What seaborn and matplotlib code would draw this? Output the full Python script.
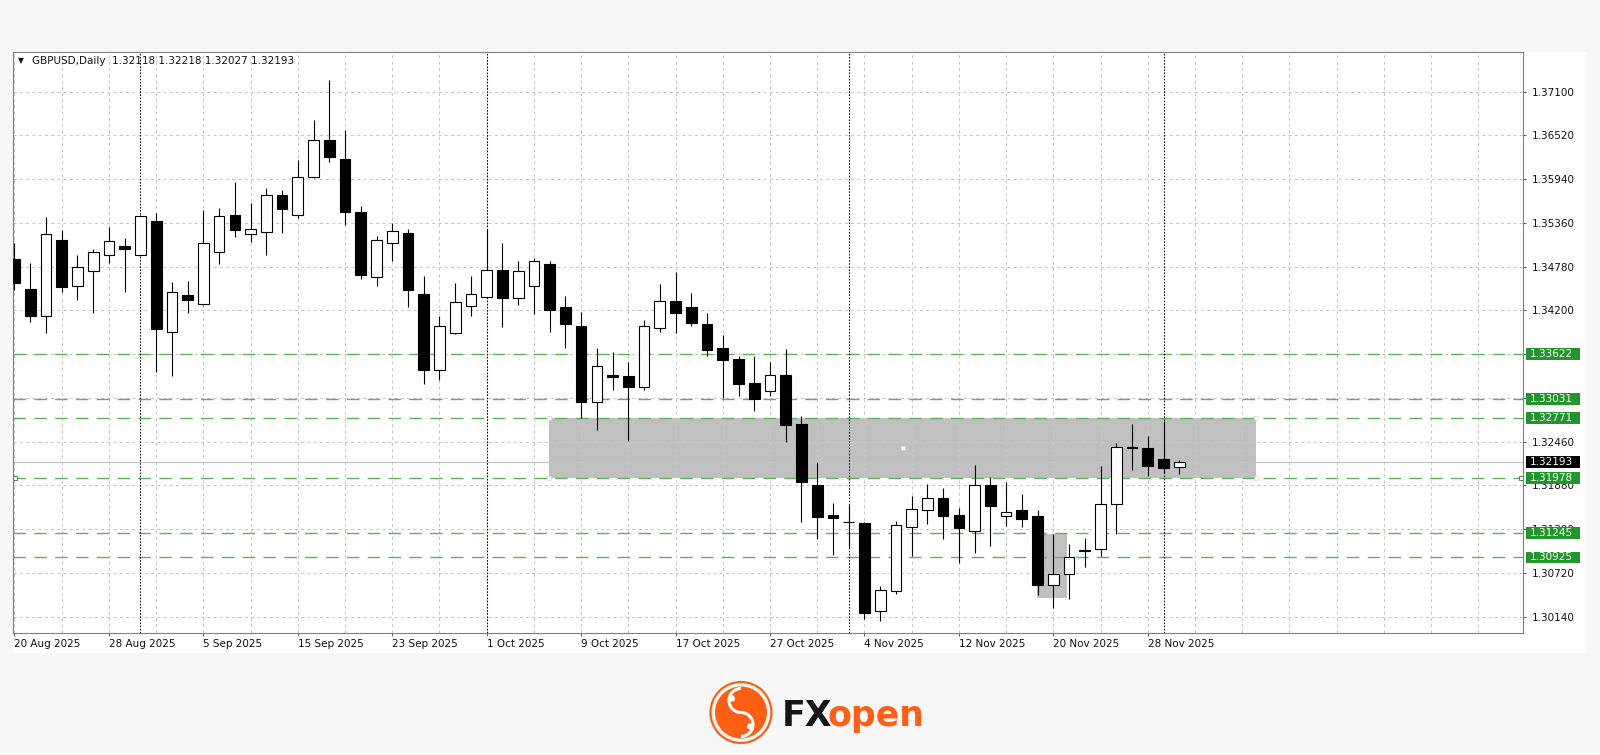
import numpy as np
import pandas as pd
import matplotlib
matplotlib.use("Agg")
import matplotlib.pyplot as plt
import matplotlib.transforms as mtransforms
from matplotlib.patches import Rectangle, Circle, Arc
import seaborn as sns

# GBPUSD daily candles, 20 Aug 2025 -> 2 Dec 2025
dates = pd.bdate_range("2025-08-20", "2025-12-02")
opens = [1.3488, 1.3448, 1.3412, 1.3514, 1.3452, 1.3472, 1.3493, 1.3506, 1.3493, 1.3538,
         1.3391, 1.3441, 1.3428, 1.3497, 1.3547, 1.3521, 1.3524, 1.3573, 1.3546, 1.3597,
         1.3646, 1.3621, 1.3551, 1.3464, 1.3510, 1.3522, 1.3442, 1.3341, 1.3390, 1.3426,
         1.3438, 1.3474, 1.3437, 1.3452, 1.3481, 1.3425, 1.3399, 1.3299, 1.3334, 1.3333,
         1.3319, 1.3397, 1.3433, 1.3424, 1.3402, 1.3370, 1.3355, 1.3324, 1.3313, 1.3334,
         1.3269, 1.3189, 1.3149, 1.3140, 1.3138, 1.3021, 1.3048, 1.3133, 1.3155, 1.3171,
         1.3149, 1.3128, 1.3189, 1.3148, 1.3155, 1.3148, 1.3056, 1.3070, 1.3101, 1.3104,
         1.3164, 1.3239, 1.3237, 1.3223, 1.32118]
highs = [1.3509, 1.3483, 1.3544, 1.3527, 1.3493, 1.3501, 1.3530, 1.3516, 1.3547, 1.3549,
         1.3458, 1.3459, 1.3553, 1.3556, 1.3590, 1.3563, 1.3582, 1.3580, 1.3619, 1.3672,
         1.3726, 1.3659, 1.3558, 1.3519, 1.3536, 1.3528, 1.3466, 1.3413, 1.3456, 1.3466,
         1.3528, 1.3509, 1.3486, 1.3490, 1.3486, 1.3439, 1.3418, 1.3370, 1.3365, 1.3352,
         1.3407, 1.3455, 1.3471, 1.3443, 1.3416, 1.3387, 1.3359, 1.3360, 1.3352, 1.3369,
         1.3280, 1.3219, 1.3165, 1.3162, 1.3140, 1.3055, 1.3141, 1.3174, 1.3190, 1.3184,
         1.3158, 1.3215, 1.3199, 1.3192, 1.3177, 1.3155, 1.3123, 1.3110, 1.3118, 1.3214,
         1.3244, 1.3269, 1.3254, 1.3273, 1.32218]
lows = [1.3447, 1.3405, 1.3390, 1.3444, 1.3434, 1.3416, 1.3483, 1.3445, 1.3492, 1.3339,
        1.3333, 1.3416, 1.3427, 1.3481, 1.3518, 1.3511, 1.3494, 1.3523, 1.3542, 1.3596,
        1.3617, 1.3533, 1.3462, 1.3452, 1.3485, 1.3425, 1.3323, 1.3328, 1.3389, 1.3413,
        1.3437, 1.3398, 1.3427, 1.3415, 1.3391, 1.3370, 1.3278, 1.3261, 1.3315, 1.3247,
        1.3315, 1.3391, 1.3390, 1.3399, 1.3360, 1.3304, 1.3307, 1.3287, 1.3307, 1.3246,
        1.3140, 1.3117, 1.3096, 1.3107, 1.3011, 1.3008, 1.3044, 1.3094, 1.3137, 1.3117,
        1.3085, 1.3099, 1.3108, 1.3134, 1.3133, 1.3043, 1.3025, 1.3038, 1.3080, 1.3095,
        1.3124, 1.3209, 1.3201, 1.3205, 1.32027]
closes = [1.3456, 1.3413, 1.3521, 1.3451, 1.3477, 1.3498, 1.3512, 1.3502, 1.3545, 1.3396,
          1.3444, 1.3434, 1.3509, 1.3545, 1.3526, 1.3528, 1.3573, 1.3555, 1.3597, 1.3646,
          1.3624, 1.3551, 1.3467, 1.3513, 1.3525, 1.3447, 1.3341, 1.3399, 1.3431, 1.3442,
          1.3474, 1.3437, 1.3472, 1.3485, 1.3421, 1.3402, 1.3299, 1.3347, 1.3332, 1.3318,
          1.3400, 1.3433, 1.3416, 1.3404, 1.3368, 1.3354, 1.3323, 1.3303, 1.3334, 1.3268,
          1.3192, 1.3146, 1.3145, 1.3139, 1.3019, 1.3049, 1.3136, 1.3157, 1.3172, 1.3148,
          1.3132, 1.3189, 1.3161, 1.3153, 1.3144, 1.3056, 1.3071, 1.3093, 1.3103, 1.3164,
          1.3239, 1.3237, 1.3214, 1.3211, 1.32193]

# horizontal levels drawn on the chart
levels = [1.33622, 1.33031, 1.32771, 1.31978, 1.31245, 1.30925]
last_price = 1.32193
zone_top, zone_bottom = 1.32771, 1.31978
small_zone_top, small_zone_bottom = 1.3123, 1.3039

price_ticks = [1.30140, 1.30720, 1.31300, 1.31880, 1.32460, 1.33040, 1.33620,
               1.34200, 1.34780, 1.35360, 1.35940, 1.36520, 1.37100]
date_tick_pos = [0, 6, 12, 18, 24, 30, 36, 42, 48, 54, 60, 66, 72]
date_tick_labels = ["20 Aug 2025", "28 Aug 2025", "5 Sep 2025", "15 Sep 2025", "23 Sep 2025",
                    "1 Oct 2025", "9 Oct 2025", "17 Oct 2025", "27 Oct 2025", "4 Nov 2025",
                    "12 Nov 2025", "20 Nov 2025", "28 Nov 2025"]
month_starts = [8, 30, 53, 73]

df = pd.DataFrame({"date": dates, "open": opens, "high": highs, "low": lows, "close": closes})
df["i"] = np.arange(len(df))
df["up"] = df["close"] >= df["open"]

sns.set_theme(style="white")
plt.rcParams["font.family"] = ["DejaVu Sans"]

W, H = 1600, 755
def fx(px):
    return px / W
def fy(py):
    return 1 - py / H

fig = plt.figure(figsize=(16, 7.55), dpi=100, facecolor="#f7f7f7")
fig.add_artist(Rectangle((fx(13), fy(653)), (1586 - 13) / W, (653 - 52) / H,
                         transform=fig.transFigure, facecolor="white",
                         edgecolor="none", zorder=-1))

ax = fig.add_axes([fx(13), fy(633), 1510 / W, 581 / H])
ax.set_facecolor("white")
ax.set_xlim(-0.095, 95.84)
ax.set_ylim(1.29924, 1.37626)

# grey zones
ax.add_patch(Rectangle((33.95, zone_bottom), 78.9 - 33.95, zone_top - zone_bottom,
                       facecolor="#c0c0c0", edgecolor="none", zorder=0.8))
ax.add_patch(Rectangle((64.95, small_zone_bottom), 66.9 - 64.95,
                       small_zone_top - small_zone_bottom,
                       facecolor="#c0c0c0", edgecolor="none", zorder=0.8))

# grid
for p in price_ticks:
    ax.axhline(p, color="#c8c8c8", lw=0.75, ls=(0, (3, 3)), zorder=1)
for i in range(0, 96, 3):
    ax.axvline(i, color="#c8c8c8", lw=0.75, ls=(0, (3, 3)), zorder=1)

# current price and levels
ax.axhline(last_price, color="#c4c4c4", lw=0.9, zorder=1.4)
for p in levels:
    ax.axhline(p, color="#5cb35c", lw=1.0, ls=(0, (9, 6)), zorder=1.5)
for i in month_starts:
    ax.axvline(i, color="black", lw=0.75, ls=(0, (1.5, 1.5)), zorder=1.6)

# selection handles
ax.plot([0.05, 95.7], [levels[3], levels[3]], ls="none", marker="s", ms=3,
        mfc="white", mec="#3a9a3a", mew=0.7, clip_on=False, zorder=6)
ax.plot([33.95, 78.9, 33.95, 78.9, (33.95 + 78.9) / 2],
        [zone_top, zone_top, zone_bottom, zone_bottom, (zone_top + zone_bottom) / 2],
        ls="none", marker="s", ms=2.2, mfc="white", mec="#d0d0d0", mew=0.4, zorder=2)

# candles
ax.vlines(df["i"], df["low"], df["high"], color="black", lw=0.8, zorder=3)
body_low = np.minimum(df["open"], df["close"])
body_h = (df["close"] - df["open"]).abs()
ax.bar(df["i"], body_h, bottom=body_low, width=0.68,
       color=np.where(df["up"], "white", "black"), edgecolor="black",
       linewidth=0.8, zorder=4)

# axes styling
for s in ax.spines.values():
    s.set_color("#808080")
    s.set_linewidth(0.8)
ax.yaxis.tick_right()
ax.set_yticks(price_ticks)
ax.set_yticklabels([f"{v:.5f}" for v in price_ticks])
ax.set_xticks(date_tick_pos)
ax.set_xticklabels(date_tick_labels, ha="left")
ax.tick_params(axis="y", right=True, length=2.5, width=0.8, color="#606060",
               pad=4, labelsize=7.5, labelcolor="#111111")
ax.tick_params(axis="x", bottom=True, length=2.5, width=0.8, color="#606060",
               pad=2, labelsize=7.5, labelcolor="#111111")
ax.grid(False)

# right-side price labels
tr = mtransforms.blended_transform_factory(ax.transAxes, ax.transData)
box_h = 0.00158
def price_label(p, bg):
    ax.add_patch(Rectangle((1 + 3 / 1510, p - box_h / 2), 54 / 1510, box_h,
                           transform=tr, facecolor=bg, edgecolor="none",
                           clip_on=False, zorder=10))
    ax.text(1 + 7 / 1510, p, f"{p:.5f}", transform=tr, color="white",
            fontsize=7.5, va="center", ha="left", clip_on=False, zorder=11)
for p in levels:
    price_label(p, "#21962a")
price_label(last_price, "black")

# header
fig.text(fx(18), fy(61), "\u25bc", fontsize=5.5, va="center", ha="left", color="#111111")
fig.text(fx(32), fy(61),
         f"GBPUSD,Daily  {opens[-1]:.5f} {highs[-1]:.5f} {lows[-1]:.5f} {closes[-1]:.5f}",
         fontsize=7.5, va="center", ha="left", color="#111111")

# FXopen logo
orange = "#ff5f14"
lax = fig.add_axes([fx(708), fy(745.5), 66 / W, 66 / H])
lax.set_xlim(0, 66)
lax.set_ylim(0, 66)
lax.axis("off")
lax.add_patch(Circle((33, 33), 30.5, facecolor="none", edgecolor=orange, lw=1.6))
lax.add_patch(Circle((33, 33), 26, facecolor=orange, edgecolor="none"))
lax.add_patch(Arc((33, 45), 24, 24, theta1=90, theta2=270, color="white", lw=2.2))
lax.add_patch(Arc((33, 21), 24, 24, theta1=-90, theta2=90, color="white", lw=2.2))
lax.add_patch(Circle((24, 47), 3, facecolor="white", edgecolor="none"))
lax.add_patch(Circle((42, 19), 3, facecolor="white", edgecolor="none"))
fig.text(fx(782), fy(726), "FX", fontsize=25, fontweight="bold", color="#151515", va="baseline")
fig.text(fx(828), fy(726), "open", fontsize=25, fontweight="bold", color=orange, va="baseline")

fig.savefig("out.png", dpi=100, facecolor=fig.get_facecolor())
